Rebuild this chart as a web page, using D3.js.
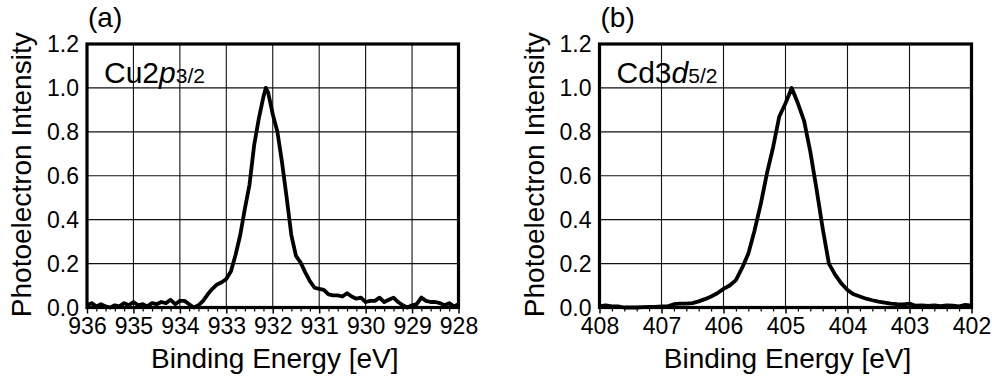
<!DOCTYPE html>
<html>
<head>
<meta charset="utf-8">
<script src="https://cdn.jsdelivr.net/npm/d3@7"></script>
<style>
    body { margin: 0; background: #fff; }
    svg { display: block; font-family: "Liberation Sans", Arial, sans-serif; }
</style>
</head>
<body>
<div id="chart"></div>
<script>
"use strict";

// Cu2p3/2 spectrum, panel (a)
const energyA = [
    936.0, 935.9, 935.8, 935.7, 935.6, 935.5, 935.4, 935.3, 935.2, 935.1,
    935.0, 934.9, 934.8, 934.7, 934.6, 934.5, 934.4, 934.3, 934.2, 934.1,
    934.0, 933.9, 933.8, 933.7, 933.6, 933.5, 933.4, 933.3, 933.2, 933.1,
    933.0, 932.9, 932.8, 932.7, 932.6, 932.5, 932.4, 932.3, 932.2, 932.15,
    932.1, 932.0, 931.9, 931.8, 931.7, 931.6, 931.5, 931.4, 931.3, 931.2,
    931.1, 931.0, 930.9, 930.8, 930.7, 930.6, 930.5, 930.4, 930.3, 930.2,
    930.1, 930.0, 929.9, 929.8, 929.7, 929.6, 929.5, 929.4, 929.3, 929.2,
    929.1, 929.0, 928.9, 928.8, 928.7, 928.6, 928.5, 928.4, 928.3, 928.2,
    928.1, 928.0
];
const intensityA = [
    0.01, 0.02, 0.005, 0.015, 0.005, 0.0, 0.01, 0.005, 0.02, 0.01,
    0.025, 0.01, 0.015, 0.005, 0.02, 0.015, 0.025, 0.02, 0.035, 0.015,
    0.03, 0.03, 0.015, 0.0, 0.01, 0.03, 0.06, 0.085, 0.105, 0.115,
    0.13, 0.165, 0.24, 0.33, 0.45, 0.56, 0.74, 0.86, 0.96, 1.0,
    0.98, 0.88, 0.8, 0.66, 0.5, 0.33, 0.235, 0.205, 0.16, 0.12,
    0.09, 0.085, 0.08, 0.06, 0.055, 0.055, 0.05, 0.065, 0.05, 0.04,
    0.045, 0.025, 0.03, 0.03, 0.045, 0.025, 0.035, 0.045, 0.025, 0.01,
    0.0, 0.01, 0.015, 0.045, 0.03, 0.025, 0.025, 0.02, 0.01, 0.02,
    0.005, 0.015
];

// Cd3d5/2 spectrum, panel (b)
const energyB = [
    408.0, 407.9, 407.8, 407.7, 407.6, 407.5, 407.4, 407.3, 407.2, 407.1,
    407.0, 406.9, 406.8, 406.7, 406.6, 406.5, 406.4, 406.3, 406.2, 406.1,
    406.0, 405.9, 405.8, 405.7, 405.6, 405.5, 405.4, 405.3, 405.2, 405.1,
    405.0, 404.9, 404.8, 404.7, 404.6, 404.5, 404.4, 404.3, 404.2, 404.1,
    404.0, 403.9, 403.8, 403.7, 403.6, 403.5, 403.4, 403.3, 403.2, 403.1,
    403.0, 402.9, 402.8, 402.7, 402.6, 402.5, 402.4, 402.3, 402.2, 402.1,
    402.0
];
const intensityB = [
    0.005, 0.01, 0.005, 0.005, 0.0, 0.0, 0.0, 0.002, 0.003, 0.003,
    0.005, 0.005, 0.015, 0.018, 0.018, 0.02, 0.028, 0.038, 0.05, 0.065,
    0.085, 0.1, 0.125, 0.18, 0.245, 0.35, 0.47, 0.61, 0.73, 0.87,
    0.93, 1.0, 0.93, 0.85, 0.71, 0.54, 0.36, 0.2, 0.15, 0.11,
    0.08, 0.06, 0.05, 0.04, 0.033, 0.027, 0.022, 0.018, 0.015, 0.014,
    0.018, 0.008, 0.01, 0.007, 0.01, 0.006, 0.01, 0.008, 0.005, 0.012,
    0.008
];

const yTicks = [0.0, 0.2, 0.4, 0.6, 0.8, 1.0, 1.2];
const xTicksA = [936, 935, 934, 933, 932, 931, 930, 929, 928];
const xTicksB = [408, 407, 406, 405, 404, 403, 402];

const xTitle = "Binding Energy [eV]";
const yTitle = "Photoelectron Intensity";

const width = 992, height = 376;

const svg = d3.select("#chart")
    .append("svg")
    .attr("width", width)
    .attr("height", height);

function drawPanel(opts) {
    const { left, right, energy, intensity, xTicks, letter, label, labelLetter, labelSub } = opts;
    const top = 44, bottom = 307.5;

    const x = d3.scaleLinear().domain([xTicks[0], xTicks[xTicks.length - 1]]).range([left, right]);
    const y = d3.scaleLinear().domain([0, 1.2]).range([bottom, top]);

    const g = svg.append("g");

    // grid
    g.selectAll(".vgrid")
        .data(xTicks)
        .join("line")
        .attr("x1", d => x(d)).attr("x2", d => x(d))
        .attr("y1", top).attr("y2", bottom)
        .attr("stroke", "#111").attr("stroke-width", 1.1);

    g.selectAll(".hgrid")
        .data(yTicks)
        .join("line")
        .attr("x1", left).attr("x2", right)
        .attr("y1", d => y(d)).attr("y2", d => y(d))
        .attr("stroke", "#111").attr("stroke-width", 1.1);

    // minor ticks every 0.2 eV
    const minor = [];
    for (let i = 0; i < xTicks.length - 1; i++) {
        for (let k = 1; k < 5; k++) minor.push(xTicks[i] - k * 0.2);
    }
    g.append("g")
        .attr("transform", `translate(0,${bottom})`)
        .call(d3.axisBottom(x).tickValues(minor).tickSize(4).tickSizeOuter(0).tickFormat(""))
        .call(a => a.select(".domain").remove())
        .call(a => a.selectAll("line").attr("stroke-width", 1.2));

    // major ticks and labels
    g.append("g")
        .attr("transform", `translate(0,${bottom})`)
        .call(d3.axisBottom(x).tickValues(xTicks).tickSize(6).tickSizeOuter(0).tickPadding(4).tickFormat(d3.format("d")))
        .call(a => a.select(".domain").remove())
        .call(a => a.selectAll("line").attr("stroke-width", 1.5))
        .call(a => a.selectAll("text").attr("font-size", 23).attr("fill", "#000")
            .attr("font-family", "'Liberation Sans', Arial, sans-serif"));

    // y labels
    g.selectAll(".ylab")
        .data(yTicks)
        .join("text")
        .attr("x", left - 8)
        .attr("y", d => y(d) + 8)
        .attr("text-anchor", "end")
        .attr("font-size", 23)
        .text(d => d.toFixed(1));

    // spectrum
    const line = d3.line()
        .x((d, i) => x(energy[i]))
        .y(d => y(d));

    g.append("path")
        .datum(intensity)
        .attr("d", line)
        .attr("fill", "none")
        .attr("stroke", "#000")
        .attr("stroke-width", 3.8)
        .attr("stroke-linejoin", "round");

    // frame
    g.append("rect")
        .attr("x", left).attr("y", top)
        .attr("width", right - left).attr("height", bottom - top)
        .attr("fill", "none").attr("stroke", "#000").attr("stroke-width", 3.2);

    // titles
    g.append("text")
        .attr("x", (left + right) / 2 + 2)
        .attr("y", 368)
        .attr("text-anchor", "middle")
        .attr("font-size", 28)
        .text(xTitle);

    g.append("text")
        .attr("transform", `translate(${left - 56},${(top + bottom) / 2 - 1}) rotate(-90)`)
        .attr("text-anchor", "middle")
        .attr("font-size", 28)
        .text(yTitle);

    g.append("text")
        .attr("x", left + 1)
        .attr("y", 27)
        .attr("font-size", 28)
        .text(letter);

    const t = g.append("text")
        .attr("x", left + 17)
        .attr("y", 83)
        .attr("font-size", 30);
    t.append("tspan").text(label);
    t.append("tspan").attr("font-style", "italic").text(labelLetter);
    t.append("tspan").attr("font-size", 21).text(labelSub);
}

drawPanel({
    left: 87, right: 458.5,
    energy: energyA, intensity: intensityA, xTicks: xTicksA,
    letter: "(a)", label: "Cu2", labelLetter: "p", labelSub: "3/2"
});

drawPanel({
    left: 599.5, right: 971.5,
    energy: energyB, intensity: intensityB, xTicks: xTicksB,
    letter: "(b)", label: "Cd3", labelLetter: "d", labelSub: "5/2"
});
</script>
</body>
</html>
